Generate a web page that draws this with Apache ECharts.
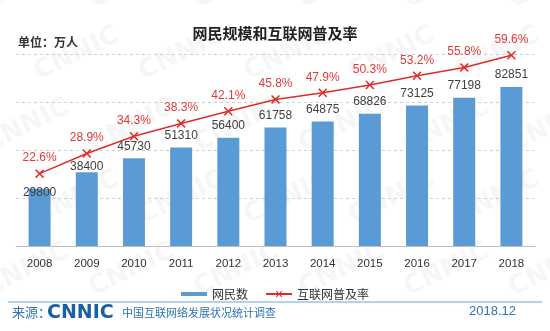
<!DOCTYPE html>
<html>
<head>
<meta charset="utf-8">
<script src="https://cdn.jsdelivr.net/npm/echarts@6/dist/echarts.min.js"></script>
<style>
html,body{margin:0;padding:0;background:#fff;}
#chart{width:550px;height:331px;}
</style>
</head>
<body>
<div id="chart"></div>
<script>
const years = ['2008','2009','2010','2011','2012','2013','2014','2015','2016','2017','2018'];
const netizens = [29800, 38400, 45730, 51310, 56400, 61758, 64875, 68826, 73125, 77198, 82851];
const penetration = [22.6, 28.9, 34.3, 38.3, 42.1, 45.8, 47.9, 50.3, 53.2, 55.8, 59.6];
// label vertical nudges (style only)
const barLabelNudge = [16, 6, 0, 0, 0, 0, 0, 0, 0, 0, 0];

const CJK = '"Noto Sans CJK SC", "Liberation Sans", sans-serif';
const LAT = '"Liberation Sans", Arial, sans-serif';
const crossPath = 'path://M0,1.2L1.2,0L5,3.8L8.8,0L10,1.2L6.2,5L10,8.8L8.8,10L5,6.2L1.2,10L0,8.8L3.8,5Z';

const chart = echarts.init(document.getElementById('chart'), null, {renderer: 'canvas'});

const barData = netizens.map((v, i) => ({
  value: v,
  label: {offset: [0, barLabelNudge[i]]}
}));

// faint background watermarks
const marks = [];
for (let r = 0; r < 5; r++) {
  for (let c = 0; c < 6; c++) {
    marks.push({
      type: 'text', x: -20 + c * 105 + (r % 2) * 50, y: -10 + r * 72, rotation: 0.45, z: -10,
      silent: true,
      style: {text: 'CNNIC', font: 'bold 26px "DejaVu Sans", sans-serif', fill: 'rgba(0,0,0,0.035)'}
    });
  }
}

const option = {
  backgroundColor: '#ffffff',
  animation: false,
  title: {
    text: '网民规模和互联网普及率',
    left: 'center',
    top: 21,
    textStyle: {fontFamily: CJK, fontSize: 15, fontWeight: 'bold', color: '#222'}
  },
  legend: {
    top: 283,
    left: 'center',
    itemWidth: 26,
    itemHeight: 8,
    itemGap: 17,
    textStyle: {fontFamily: CJK, fontSize: 12, color: '#333'},
    data: [
      {name: '网民数', icon: 'path://M0,0H26V4H0Z'},
      {name: '互联网普及率'}
    ]
  },
  grid: {left: 16, right: 15, top: 54, bottom: 85, containLabel: false},
  xAxis: {
    type: 'category',
    data: years,
    axisLine: {lineStyle: {color: '#bfbfbf', width: 1}},
    axisTick: {inside: true, length: 5, lineStyle: {color: '#bfbfbf'}},
    axisLabel: {fontFamily: LAT, fontSize: 11.5, color: '#333', margin: 12}
  },
  yAxis: [
    {
      type: 'value', min: 0, max: 100000, interval: 25000,
      axisLine: {show: false}, axisTick: {show: false}, axisLabel: {show: false},
      splitLine: {lineStyle: {color: '#d0d0d0', type: [3, 3], width: 1}}
    },
    {
      type: 'value', min: 0, max: 60, interval: 15,
      axisLine: {show: false}, axisTick: {show: false}, axisLabel: {show: false},
      splitLine: {show: false}
    }
  ],
  series: [
    {
      name: '网民数',
      type: 'bar',
      data: barData,
      barWidth: 22,
      itemStyle: {color: '#5b9bd5'},
      label: {
        show: true, position: 'top', distance: 6,
        fontFamily: LAT, fontSize: 12, color: '#404040'
      },
      z: 2
    },
    {
      name: '互联网普及率',
      type: 'line',
      yAxisIndex: 1,
      data: penetration,
      symbol: crossPath,
      symbolSize: 9,
      itemStyle: {color: '#e02b2b'},
      lineStyle: {color: '#e02b2b', width: 1.5},
      label: {
        show: true, position: 'top', distance: 5,
        fontFamily: LAT, fontSize: 12, color: '#e03a3a',
        formatter: p => p.value.toFixed(1) + '%'
      },
      z: 3
    }
  ],
  graphic: marks.concat([
    {type: 'text', left: 18, top: 36,
     style: {text: '单位：万人', font: 'bold 12px ' + CJK, fill: '#333'}},
    {type: 'line', shape: {x1: 8, y1: 302, x2: 542, y2: 302},
     style: {stroke: '#9dc3e6', lineWidth: 1.5}},
    {type: 'text', left: 12, top: 306,
     style: {text: '来源：', font: '13px ' + CJK, fill: '#2e75b6'}},
    {type: 'text', left: 47, top: 304,
     style: {text: 'CNNIC', font: 'bold 19px "DejaVu Sans", sans-serif', fill: '#1d5fa6'}},
    {type: 'text', left: 122, top: 307,
     style: {text: '中国互联网络发展状况统计调查', font: '11px ' + CJK, fill: '#2e75b6'}},
    {type: 'text', left: 469, top: 305,
     style: {text: '2018.12', font: '13px ' + LAT, fill: '#2e75b6'}}
  ])
};
chart.setOption(option);
</script>
</body>
</html>
